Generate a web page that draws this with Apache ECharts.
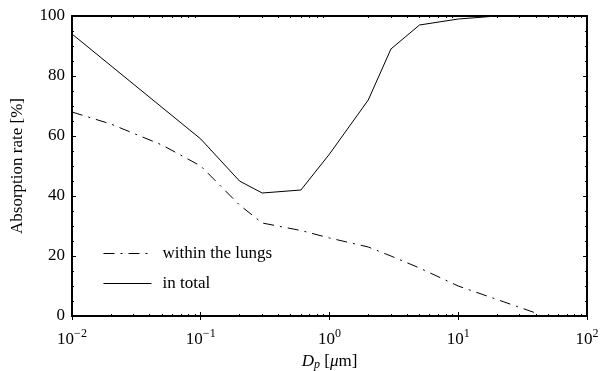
<!DOCTYPE html>
<html>
<head>
<meta charset="utf-8">
<script src="https://cdn.jsdelivr.net/npm/echarts@6/dist/echarts.min.js"></script>
<style>
  html, body { margin: 0; padding: 0; background: #fff; }
  #chart { width: 601px; height: 371px; }
</style>
</head>
<body>
<div id="chart"></div>
<script>
// particle diameter [um]
const totalX = [0.01, 0.1, 0.2, 0.3, 0.6, 1, 2, 3, 5, 10, 20, 100]
const totalY = [94, 59, 45, 41, 42, 54, 72, 89, 97, 99, 100, 100]
const lungsX = [0.01, 0.02, 0.05, 0.1, 0.2, 0.3, 0.6, 1, 2, 3, 5, 10, 20, 40]
const lungsY = [68, 64, 57, 50, 37, 31, 28.5, 26, 23, 20, 16, 10, 5.5, 1]
const majorX = [0.01, 0.1, 1, 10, 100]
const minorX = []
for (let d = 0.01; d < 100; d *= 10) {
    for (let k = 2; k <= 9; k++) minorX.push(+(d * k).toPrecision(2))
}

const font = '"Liberation Serif", "DejaVu Serif", serif'
const fs = 17
const chart = echarts.init(document.getElementById('chart'))

function pairs(xs, ys) {
    return xs.map((x, i) => [x, ys[i]])
}

function logAxis(pos, ticks, len, showLabel) {
    return {
        type: 'log', logBase: 10, min: 0.01, max: 100, position: pos,
        axisLine: { show: true, lineStyle: { color: '#000', width: 2 } },
        axisTick: { show: true, inside: true, length: len, customValues: ticks, lineStyle: { color: '#000', width: 1 } },
        axisLabel: {
            show: showLabel, customValues: ticks, margin: 5,
            fontFamily: font, fontSize: fs, color: '#000',
            formatter: v => '{b|10}{e|' + String(Math.round(Math.log10(v))).replace('-', '−') + '}',
            rich: {
                b: { fontFamily: font, fontSize: fs, color: '#000', padding: [10, 0, 0, 0] },
                e: { fontFamily: font, fontSize: 12, color: '#000', padding: [0, 0, 2, 0] }
            }
        },
        splitLine: { show: false }
    }
}

const option = {
    animation: false,
    grid: { left: 72, right: 14, top: 16, bottom: 55, outerBoundsMode: 'none', containLabel: false },
    xAxis: [
        Object.assign(logAxis('bottom', majorX, 4, true), {
            name: '{i|D}{s|p} [{i|μ}m]', nameLocation: 'middle', nameGap: 23,
            nameTextStyle: {
                fontFamily: font, fontSize: fs, color: '#000',
                rich: {
                    i: { fontFamily: font, fontSize: fs, fontStyle: 'italic' },
                    s: { fontFamily: font, fontSize: 12, fontStyle: 'italic', verticalAlign: 'bottom', padding: [7, 0, 0, 0] }
                }
            }
        }),
        logAxis('top', majorX, 4, false),
        logAxis('bottom', minorX, 2, false),
        logAxis('top', minorX, 2, false)
    ],
    yAxis: [
        {
            type: 'value', min: 0, max: 100, interval: 20, position: 'left',
            name: 'Absorption rate [%]', nameLocation: 'middle', nameGap: 46,
            nameTextStyle: { fontFamily: font, fontSize: fs, color: '#000' },
            axisLine: { show: true, lineStyle: { color: '#000', width: 2 } },
            axisTick: { show: true, inside: true, length: 4, lineStyle: { color: '#000' } },
            minorTick: { show: true, splitNumber: 4, length: 2, lineStyle: { color: '#000' } },
            axisLabel: { fontFamily: font, fontSize: fs, color: '#000', margin: 7 },
            splitLine: { show: false }
        },
        {
            type: 'value', min: 0, max: 100, interval: 20, position: 'right',
            axisLine: { show: true, lineStyle: { color: '#000', width: 2 } },
            axisTick: { show: true, inside: true, length: 4, lineStyle: { color: '#000' } },
            minorTick: { show: true, splitNumber: 4, length: 2, lineStyle: { color: '#000' } },
            axisLabel: { show: false },
            splitLine: { show: false }
        }
    ],
    legend: {
        left: 98, top: 240, orient: 'vertical', itemGap: 13,
        itemWidth: 48, itemHeight: 10,
        itemStyle: { opacity: 0 },
        lineStyle: { width: 1 },
        textStyle: { fontFamily: font, fontSize: fs, color: '#000', padding: [0, 0, 0, 6] },
        data: ['within the lungs', 'in total']
    },
    series: [
        {
            name: 'within the lungs', type: 'line', showSymbol: false, symbol: 'none',
            data: pairs(lungsX, lungsY),
            lineStyle: { color: '#000', width: 1, type: [11, 6, 2, 6] },
            itemStyle: { color: '#000' }
        },
        {
            name: 'in total', type: 'line', showSymbol: false, symbol: 'none',
            data: pairs(totalX, totalY),
            lineStyle: { color: '#000', width: 1 },
            itemStyle: { color: '#000' }
        }
    ]
}
chart.setOption(option)
</script>
</body>
</html>
